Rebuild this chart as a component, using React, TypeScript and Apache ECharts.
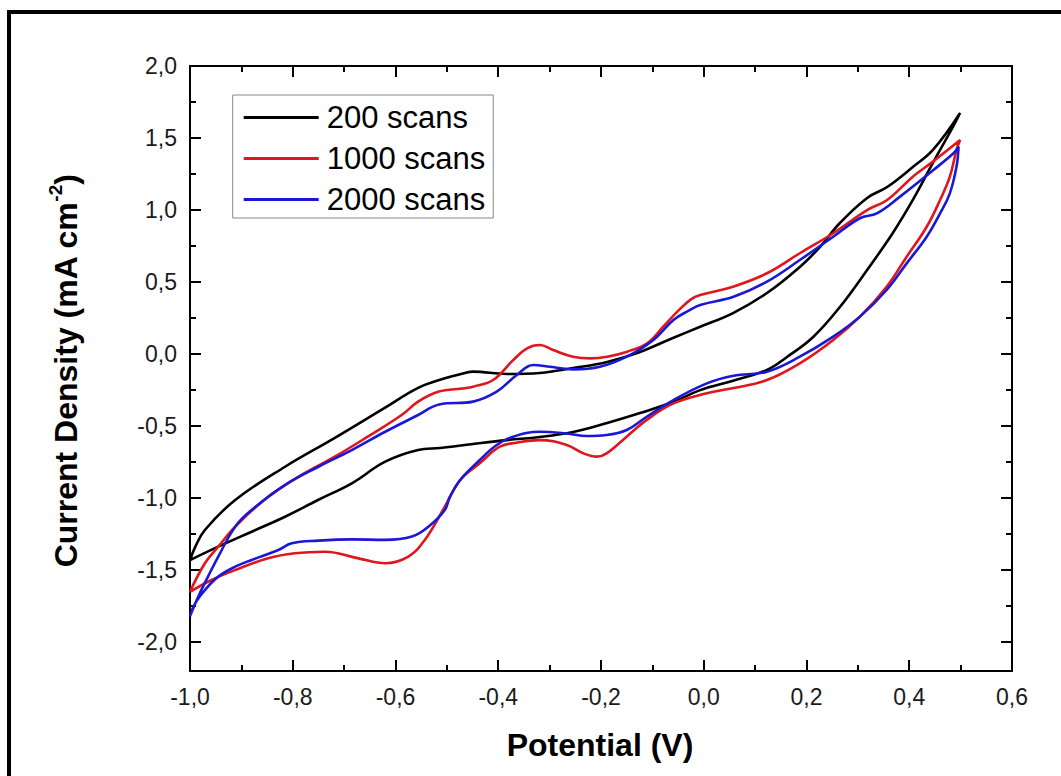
import React, { useEffect, useRef } from "react";
import * as echarts from "echarts";

// ---- Data (potential in V, current density in mA cm^-2), each loop: anodic branch then cathodic branch ----
const seriesNames = ["200 scans", "1000 scans", "2000 scans"];

const blackV = [
  -1.0, -0.99, -0.971, -0.912, -0.815, -0.718, -0.621, -0.556, -0.51, -0.465, -0.449, -0.383, -0.319, -0.2545,
  -0.188, -0.124, -0.06, -0.007, 0.057, 0.123, 0.187, 0.226, 0.265, 0.318, 0.357, 0.407, 0.446, 0.499,
  0.485, 0.446, 0.407, 0.368, 0.318, 0.265, 0.213, 0.162, 0.123, 0.057, -0.007, -0.06, -0.124, -0.188,
  -0.2545, -0.319, -0.383, -0.449, -0.513, -0.556, -0.62, -0.685, -0.751, -0.815, -0.88, -0.945, -1.0,
];
const blackI = [
  -1.43, -1.34, -1.221, -1.013, -0.782, -0.582, -0.374, -0.235, -0.175, -0.131, -0.122, -0.138, -0.131, -0.097,
  -0.055, 0.015, 0.112, 0.19, 0.285, 0.424, 0.605, 0.743, 0.91, 1.084, 1.16, 1.299, 1.417, 1.674,
  1.577, 1.327, 1.07, 0.841, 0.584, 0.327, 0.119, -0.02, -0.11, -0.185, -0.25, -0.333, -0.409, -0.478,
  -0.541, -0.576, -0.597, -0.624, -0.652, -0.666, -0.747, -0.897, -1.013, -1.129, -1.233, -1.337, -1.43,
];

const redV = [
  -1.0, -0.971, -0.945, -0.912, -0.848, -0.783, -0.718, -0.654, -0.588, -0.556, -0.517, -0.465, -0.449,
  -0.41, -0.371, -0.344, -0.319, -0.293, -0.2545, -0.221, -0.188, -0.149, -0.11, -0.079, -0.05, -0.025,
  -0.007, 0.057, 0.123, 0.187, 0.252, 0.318, 0.357, 0.407, 0.446, 0.499,
  0.492, 0.479, 0.46, 0.434, 0.395, 0.356, 0.304, 0.252, 0.187, 0.123, 0.058, 0.006, -0.059, -0.111,
  -0.15, -0.189, -0.208, -0.234, -0.267, -0.319, -0.364, -0.397, -0.436, -0.474, -0.504, -0.543, -0.575,
  -0.62, -0.672, -0.737, -0.796, -0.848, -0.912, -0.958, -1.0,
];
const redI = [
  -1.65, -1.452, -1.337, -1.198, -0.99, -0.839, -0.712, -0.573, -0.423, -0.33, -0.261, -0.237, -0.226,
  -0.18, -0.042, 0.04, 0.063, 0.028, -0.018, -0.03, -0.018, 0.017, 0.075, 0.19, 0.3, 0.38,
  0.41, 0.468, 0.561, 0.7, 0.839, 1.0, 1.07, 1.232, 1.336, 1.486,
  1.417, 1.232, 1.07, 0.884, 0.676, 0.468, 0.26, 0.098, -0.064, -0.18, -0.236, -0.272, -0.342, -0.457,
  -0.573, -0.689, -0.712, -0.689, -0.631, -0.597, -0.615, -0.643, -0.758, -0.874, -1.059, -1.29, -1.406,
  -1.452, -1.418, -1.372, -1.383, -1.418, -1.499, -1.568, -1.65,
];

const blueV = [
  -1.0, -0.984, -0.965, -0.945, -0.912, -0.88, -0.815, -0.75, -0.685, -0.62, -0.556, -0.515, -0.449,
  -0.403, -0.364, -0.332, -0.299, -0.254, -0.202, -0.15, -0.098, -0.059, -0.03, -0.007, 0.058, 0.123,
  0.187, 0.252, 0.304, 0.337, 0.382, 0.447, 0.486, 0.496,
  0.492, 0.479, 0.46, 0.434, 0.395, 0.356, 0.304, 0.252, 0.187, 0.123, 0.058, 0.006, -0.059, -0.111,
  -0.15, -0.189, -0.228, -0.267, -0.319, -0.371, -0.403, -0.436, -0.474, -0.494, -0.504, -0.536, -0.568,
  -0.62, -0.685, -0.75, -0.802, -0.828, -0.88, -0.912, -0.945, -0.971, -0.99, -1.0,
];
const blueI = [
  -1.82, -1.684, -1.545, -1.406, -1.198, -1.082, -0.909, -0.782, -0.666, -0.539, -0.423, -0.35, -0.33,
  -0.261, -0.145, -0.076, -0.088, -0.106, -0.088, -0.018, 0.098, 0.237, 0.3, 0.341, 0.398, 0.503,
  0.653, 0.815, 0.943, 0.977, 1.093, 1.278, 1.394, 1.44,
  1.301, 1.116, 0.977, 0.815, 0.63, 0.445, 0.26, 0.121, -0.018, -0.122, -0.15, -0.203, -0.319, -0.435,
  -0.527, -0.562, -0.569, -0.551, -0.539, -0.573, -0.631, -0.735, -0.874, -0.99, -1.082, -1.198, -1.267,
  -1.29, -1.286, -1.295, -1.313, -1.36, -1.429, -1.476, -1.545, -1.638, -1.73, -1.82,
];

const zip = (xs: number[], ys: number[]) => xs.map((x, i) => [x, ys[i]]);

const FONT = "'Liberation Sans', Arial, Helvetica, sans-serif";
const fmt = (v: number) => (Math.abs(v) < 1e-9 ? "0,0" : v.toFixed(1).replace(".", ","));

export default function App() {
  const ref = useRef<HTMLDivElement>(null);
  useEffect(() => {
    if (!ref.current) return;
    const chart = echarts.init(ref.current, null, { renderer: "svg" });
    const tickCommon = {
      show: true,
      inside: true,
      length: 11,
      lineStyle: { color: "#000", width: 2 },
    };
    const minorCommon = {
      show: true,
      splitNumber: 2,
      length: 6,
      lineStyle: { color: "#000", width: 2 },
    };
    const noLine = { show: false, onZero: false };
    const labelStyle = { color: "#1a1a1a", fontSize: 23, fontFamily: FONT };
    const lineSeries = (name: string, data: number[][], color: string) => ({
      name,
      type: "line",
      data,
      xAxisIndex: 0,
      yAxisIndex: 0,
      showSymbol: false,
      symbol: "none",
      smooth: 0.4,
      lineStyle: { color, width: 2.6 },
      itemStyle: { color },
    });
    chart.setOption({
      animation: false,
      backgroundColor: "#fff",
      grid: [
        { left: 190, right: 49, top: 66, bottom: 105, show: true, borderColor: "#000", borderWidth: 2, backgroundColor: "transparent" },
        { left: 190, right: 49, top: 66, bottom: 133.8, show: false },
      ],
      xAxis: [
        {
          type: "value", gridIndex: 0, position: "bottom", min: -1, max: 0.6, interval: 0.2,
          axisLine: noLine, splitLine: { show: false },
          axisTick: tickCommon, minorTick: minorCommon,
          axisLabel: { ...labelStyle, margin: 14, formatter: fmt },
        },
        {
          type: "value", gridIndex: 0, position: "top", min: -1, max: 0.6, interval: 0.2,
          axisLine: noLine, splitLine: { show: false },
          axisTick: tickCommon, minorTick: minorCommon, axisLabel: { show: false },
        },
        { type: "value", gridIndex: 1, min: -1, max: 0.6, show: false, axisLine: noLine },
      ],
      yAxis: [
        { type: "value", gridIndex: 0, min: -2.2, max: 2.0, show: false, axisLine: noLine },
        {
          type: "value", gridIndex: 1, position: "left", min: -2, max: 2, interval: 0.5,
          axisLine: noLine, splitLine: { show: false },
          axisTick: tickCommon, minorTick: minorCommon,
          axisLabel: { ...labelStyle, margin: 13, formatter: fmt },
        },
        {
          type: "value", gridIndex: 1, position: "right", min: -2, max: 2, interval: 0.5,
          axisLine: noLine, splitLine: { show: false },
          axisTick: tickCommon, minorTick: minorCommon, axisLabel: { show: false },
        },
      ],
      legend: {
        orient: "vertical",
        left: 232.7,
        top: 95,
        selectedMode: false,
        icon: "rect",
        itemWidth: 75,
        itemHeight: 3,
        itemGap: 10,
        borderColor: "#888",
        borderWidth: 1,
        padding: [7, 8, 3, 11],
        textStyle: { color: "#000", fontSize: 31, lineHeight: 30, fontFamily: FONT, padding: [0, 0, 0, 3] },
        data: seriesNames,
      },
      series: [
        lineSeries(seriesNames[0], zip(blackV, blackI), "#000000"),
        lineSeries(seriesNames[1], zip(redV, redI), "#e0161c"),
        lineSeries(seriesNames[2], zip(blueV, blueI), "#1818d6"),
      ],
      graphic: [
        { type: "rect", shape: { x: 7, y: 10, width: 1054, height: 4 }, style: { fill: "#000" } },
        { type: "rect", shape: { x: 7, y: 10, width: 4, height: 766 }, style: { fill: "#000" } },
        {
          type: "text",
          x: 600,
          y: 745,
          style: {
            text: "Potential (V)",
            fill: "#000",
            font: `bold 32px ${FONT}`,
            textAlign: "center",
            textVerticalAlign: "middle",
          },
        },
        {
          type: "text",
          x: 66,
          y: 371,
          rotation: Math.PI / 2,
          style: {
            text: "{a|Current Density (mA cm}{s|-2}{a|)}",
            fill: "#000",
            textAlign: "center",
            textVerticalAlign: "middle",
            rich: {
              a: { fontSize: 32, fontWeight: "bold", fontFamily: FONT, lineHeight: 40, fill: "#000" },
              s: { fontSize: 19, fontWeight: "bold", fontFamily: FONT, lineHeight: 19, verticalAlign: "top", fill: "#000" },
            },
          },
        },
      ],
    });
    return () => chart.dispose();
  }, []);
  return (
    <div
      ref={ref}
      style={{ position: "fixed", left: 0, top: 0, width: 1061, height: 776, background: "#fff" }}
    />
  );
}
